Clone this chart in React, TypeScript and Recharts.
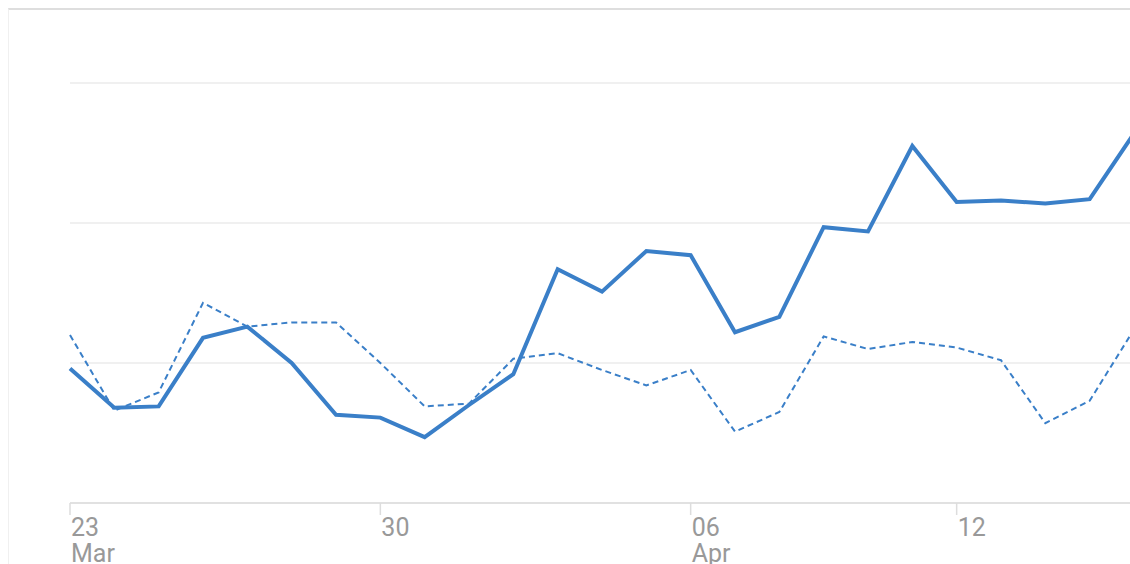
import React from "react";
import { LineChart, Line, XAxis, YAxis, CartesianGrid } from "recharts";

// day index from 23 Mar
const days = [0, 1, 2, 3, 4, 5, 6, 7, 8, 9, 10, 11, 12, 13, 14, 15, 16, 17, 18, 19, 20, 21, 22, 23, 24];
const currentSeries = [96, 68, 69, 118, 126, 100, 63, 61, 47, 70, 92, 167, 151, 180, 177, 122, 133, 197, 194, 255, 215, 216, 214, 217, 264];
const previousSeries = [120, 66, 79, 143, 126, 129, 129, 100, 69, 71, 103, 107, 95, 84, 95, 51, 65, 119, 110, 115, 111, 102, 57, 73, 124];
const tickDays = [0, 7, 14, 20];
const tickLabels: string[][] = [["23", "Mar"], ["30"], ["06", "Apr"], ["12"]];

const data = days.map((d, i) => ({ day: d, current: currentSeries[i], previous: previousSeries[i] }));

const BLUE = "#3a7fc8";

const DateTick = (props: any) => {
  const { x, y, payload } = props;
  const idx = tickDays.indexOf(payload.value);
  const lines = idx >= 0 ? tickLabels[idx] : [];
  return (
    <g>
      {lines.map((t, i) => (
        <text
          key={i}
          x={x + 1}
          y={y + 21 + i * 26}
          textAnchor="start"
          fill="#999999"
          fontSize={25}
          fontFamily="Roboto, sans-serif"
        >
          {t}
        </text>
      ))}
    </g>
  );
};

export default function App() {
  return (
    <div style={{ width: 1114, height: 548 }}>
      <style>{`html,body{overflow:hidden;}`}</style>
      <div
        style={{
          position: "fixed",
          left: 8,
          top: 8,
          width: 1122,
          height: 556,
          overflow: "hidden",
          borderTop: "2px solid #dedede",
          borderLeft: "1px solid #f0f0f0",
          background: "#fff",
        }}
      >
        <LineChart
          width={1200}
          height={560}
          data={data}
          margin={{ top: 73, right: 75, bottom: 0, left: 61 }}
        >
          <CartesianGrid vertical={false} stroke="#ebebeb" strokeWidth={1.5} />
          <XAxis
            dataKey="day"
            type="number"
            domain={[0, 24]}
            ticks={tickDays}
            interval={0}
            height={67}
            tickSize={12}
            tickMargin={0}
            stroke="#dddddd"
            strokeWidth={1.5}
            tickLine={{ stroke: "#dddddd" }}
            tick={<DateTick />}
          />
          <YAxis hide domain={[0, 300]} ticks={[0, 100, 200, 300]} />
          <Line
            type="linear"
            dataKey="previous"
            stroke={BLUE}
            strokeWidth={2}
            strokeDasharray="6 4"
            dot={false}
            isAnimationActive={false}
          />
          <Line
            type="linear"
            dataKey="current"
            stroke={BLUE}
            strokeWidth={4}
            dot={false}
            isAnimationActive={false}
          />
        </LineChart>
      </div>
    </div>
  );
}
